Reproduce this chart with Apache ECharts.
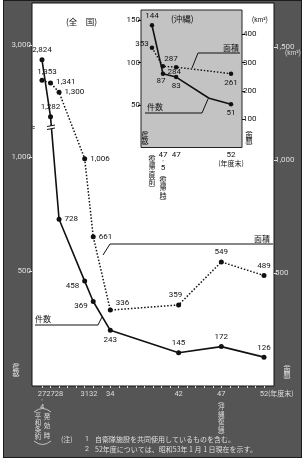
<!DOCTYPE html>
<html>
<head>
<meta charset="utf-8">
<script src="https://cdn.jsdelivr.net/npm/echarts@6/dist/echarts.min.js"></script>
<style>
  html, body { margin: 0; padding: 0; background: #fff; }
  #frame { position: absolute; left: 3px; top: 0; width: 297px; height: 456px; background: #555; border: 1px solid #1c1c1c; }
  #chart { position: absolute; left: 0; top: 0; width: 307px; height: 462px; }
</style>
</head>
<body>
<div id="frame"></div>
<div id="chart"></div>
<script>
// 全国 -- x position in fiscal-year-end units (27.4 sits one year before FY27)
const xPos = [26, 27, 28, 31, 32, 34, 42, 47, 52];
const xLabels = ['27', '27', '28', '31', '32', '34', '42', '47', '52'];
const kensu = [2824, 1282, 728, 458, 369, 243, 145, 172, 126];     // 件数
const menseki = [1353, 1341, 1300, 1006, 661, 336, 359, 549, 489]; // 面積 (km²)
const leftTicks = [500, 1000, 3000];
const rightTicks = [500, 1000, 1500];

// 沖縄
const okiX = [44.8, 45.8, 47, 50, 52];
const okiKensu = [144, 87, 83, 58, 51];
const okiMenseki = [353, 287, 284, null, 261];
const okiXTicks = [44.8, 45.8, 47, 52];
const okiLeftTicks = [50, 100, 150];
const okiRightTicks = [100, 200, 300, 400];

const FONT_NUM = 'Roboto, "Noto Sans CJK JP", sans-serif';
const FONT_JP = '"Noto Sans CJK JP", sans-serif';
const LIGHT = '#dedede';
const INK = '#111';

// broken left axis (件数): compress everything above ~1,100
const knots = [[0, 0], [1100, 1100], [1282, 1175], [2824, 1424], [3000, 1489]];
function brk(v) {
  for (let i = 1; i < knots.length; i++) {
    const [a0, b0] = knots[i - 1], [a1, b1] = knots[i];
    if (v <= a1) return b0 + (v - a0) * (b1 - b0) / (a1 - a0);
  }
  return knots[knots.length - 1][1];
}
const fmt = n => n.toLocaleString('en-US');

// label placement per point
const kensuLbl = [
  { position: 'top' }, { position: 'top' }, { position: 'right' },
  { position: 'left', offset: [0, 5] }, { position: 'left', offset: [0, 5] },
  { position: 'bottom' }, { position: 'top' }, { position: 'top' }, { position: 'top' }
];
const mensekiLbl = [
  { position: 'top', offset: [5, 1] }, { position: 'right', offset: [0, -1] }, { position: 'right' },
  { position: 'right' }, { position: 'right' }, { position: 'right', offset: [0, -7] },
  { position: 'top', offset: [-3, 0] }, { position: 'top' }, { position: 'top' }
];
const okiKensuLbl = [
  { position: 'top' }, { position: 'bottom', offset: [-2, -2] }, { position: 'bottom' },
  { show: false }, { position: 'bottom' }
];
const okiMensekiLbl = [
  { position: 'left', offset: [2, -4] }, { position: 'top', offset: [8, 2] },
  { position: 'bottom', offset: [-2, -4] }, {}, { position: 'bottom' }
];

const yearTicks = [];
for (let y = 26; y <= 52; y++) yearTicks.push(y);

const chart = echarts.init(document.getElementById('chart'), null, { renderer: 'canvas' });

const lblBase = { show: true, color: INK, fontSize: 8, fontFamily: FONT_NUM, distance: 3 };

const option = {
  animation: false,
  backgroundColor: 'transparent',
  grid: [
    { left: 32, right: 33, top: 3, bottom: 76, show: true, backgroundColor: '#fff', borderColor: '#111', borderWidth: 1 },
    { left: 141, top: 10, width: 101, height: 137.5, show: true, backgroundColor: '#c3c3c3', borderColor: '#222', borderWidth: 1 }
  ],
  xAxis: [
    {
      type: 'value', gridIndex: 0, min: 24.83, max: 53.17,
      axisLine: { show: false }, splitLine: { show: false },
      axisTick: { show: true, customValues: yearTicks, length: 2, lineStyle: { color: LIGHT } },
      axisLabel: {
        customValues: xPos, color: LIGHT, margin: 4,
        formatter: v => {
          const i = xPos.indexOf(v);
          if (i === 0) return '{n|27}\n{s|・}\n{n|4}';
          if (xLabels[i] === '47') return '{n|47}\n{b|︵}\n{v|沖}\n{v|縄}\n{v|復}\n{v|帰}\n{b|︶}';
          return '{n|' + xLabels[i] + '}';
        },
        rich: {
          n: { fontSize: 7.5, lineHeight: 8, fontFamily: FONT_NUM, color: LIGHT },
          s: { fontSize: 6, lineHeight: 5, color: LIGHT },
          v: { fontSize: 6.5, lineHeight: 7.5, fontFamily: FONT_JP, color: LIGHT },
          b: { fontSize: 6.5, lineHeight: 5, fontFamily: FONT_JP, color: LIGHT }
        }
      }
    },
    {
      type: 'value', gridIndex: 1, min: 43.8, max: 53.0,
      axisLine: { show: false }, splitLine: { show: false }, axisTick: { show: false },
      axisLabel: {
        customValues: okiXTicks, margin: 3,
        formatter: v => {
          if (v === okiXTicks[0]) return '{b|︵}\n{v|復}\n{v|帰}\n{v|直}\n{v|前}\n{b|︶}';
          if (v === okiXTicks[1]) return '{n|47}\n{s|・}\n{n|5}\n{b|︵}\n{v|復}\n{v|帰}\n{v|時}\n{b|︶}';
          if (v === okiXTicks[2]) return '{n|47}';
          return '{n|52}\n{h|(年度末)}';
        },
        rich: {
          n: { fontSize: 8, lineHeight: 8, fontFamily: FONT_NUM, color: INK },
          s: { fontSize: 6, lineHeight: 5, color: INK },
          v: { fontSize: 7, lineHeight: 7.5, fontFamily: FONT_JP, color: INK },
          b: { fontSize: 7, lineHeight: 5, fontFamily: FONT_JP, color: INK },
          h: { fontSize: 7, lineHeight: 9, fontFamily: FONT_JP, color: INK }
        }
      }
    }
  ],
  yAxis: [
    {
      type: 'value', gridIndex: 0, position: 'left', min: 0, max: 1672,
      axisLine: { show: false }, splitLine: { show: false },
      axisTick: { show: true, customValues: leftTicks.map(brk), length: 3, lineStyle: { color: LIGHT } },
      axisLabel: {
        customValues: leftTicks.map(brk), color: LIGHT, fontSize: 8, fontFamily: FONT_NUM, margin: 1,
        formatter: v => fmt(leftTicks.find(t => Math.abs(brk(t) - v) < 0.5))
      }
    },
    {
      type: 'value', gridIndex: 0, position: 'right', min: 0, max: 1695,
      axisLine: { show: false }, splitLine: { show: false },
      axisTick: { show: true, customValues: rightTicks, length: 3, lineStyle: { color: LIGHT } },
      axisLabel: { customValues: rightTicks, color: LIGHT, fontSize: 8, fontFamily: FONT_NUM, margin: 1, formatter: v => fmt(v) }
    },
    {
      type: 'value', gridIndex: 1, position: 'left', min: 0, max: 162,
      axisLine: { show: false }, splitLine: { show: false },
      axisTick: { show: true, customValues: okiLeftTicks, length: 3, lineStyle: { color: INK } },
      axisLabel: { customValues: okiLeftTicks, color: INK, fontSize: 8, fontFamily: FONT_NUM, margin: 1 }
    },
    {
      type: 'value', gridIndex: 1, position: 'right', min: 0, max: 486,
      axisLine: { show: false }, splitLine: { show: false },
      axisTick: { show: true, customValues: okiRightTicks, length: 3, lineStyle: { color: INK } },
      axisLabel: { customValues: okiRightTicks, color: INK, fontSize: 8, fontFamily: FONT_NUM, margin: 1 }
    }
  ],
  series: [
    {
      name: '件数', type: 'line', xAxisIndex: 0, yAxisIndex: 0,
      data: xPos.map((x, i) => ({ value: [x, brk(kensu[i])], label: kensuLbl[i] })),
      symbol: 'circle', symbolSize: 5, itemStyle: { color: INK },
      lineStyle: { color: INK, width: 1.6 },
      label: Object.assign({}, lblBase, { formatter: p => fmt(kensu[p.dataIndex]) }),
      z: 5
    },
    {
      name: '面積', type: 'line', xAxisIndex: 0, yAxisIndex: 1,
      data: xPos.map((x, i) => ({ value: [x, menseki[i]], label: mensekiLbl[i] })),
      symbol: 'circle', symbolSize: 5, itemStyle: { color: INK },
      lineStyle: { color: INK, width: 1.5, type: [1.5, 1.8] },
      label: Object.assign({}, lblBase, { formatter: p => fmt(menseki[p.dataIndex]) }),
      z: 4
    },
    {
      name: '沖縄件数', type: 'line', xAxisIndex: 1, yAxisIndex: 2,
      data: okiX.map((x, i) => ({ value: [x, okiKensu[i]], label: okiKensuLbl[i], symbol: i === 3 ? 'none' : 'circle' })),
      symbolSize: 4.5, itemStyle: { color: INK },
      lineStyle: { color: INK, width: 1.6 },
      label: Object.assign({}, lblBase, { formatter: p => String(okiKensu[p.dataIndex]) }),
      z: 6
    },
    {
      name: '沖縄面積', type: 'line', xAxisIndex: 1, yAxisIndex: 3, connectNulls: true,
      data: okiX.map((x, i) => ({ value: [x, okiMenseki[i]], label: okiMensekiLbl[i] })),
      symbol: 'circle', symbolSize: 4.5, itemStyle: { color: INK },
      lineStyle: { color: INK, width: 1.4, type: [1.5, 1.8] },
      label: Object.assign({}, lblBase, { formatter: p => String(okiMenseki[p.dataIndex]) }),
      z: 6
    }
  ],
  graphic: [
    // titles
    { type: 'text', x: 66, y: 18, z: 50, style: { text: '(全　国)', fill: INK, fontSize: 8.5, fontFamily: FONT_JP } },
    { type: 'text', x: 171, y: 15, z: 50, style: { text: '(沖縄)', fill: INK, fontSize: 8.5, fontFamily: FONT_JP } },
    { type: 'text', x: 252, y: 17, z: 50, style: { text: '(km²)', fill: INK, fontSize: 6.5, fontFamily: FONT_NUM } },
    { type: 'text', x: 285, y: 50, z: 50, style: { text: '(km²)', fill: LIGHT, fontSize: 6.5, fontFamily: FONT_NUM } },
    // main callouts
    { type: 'polyline', z: 50, shape: { points: [[103, 255], [110, 244], [273, 244]] }, style: { stroke: INK, lineWidth: 1, fill: null } },
    { type: 'text', x: 254, y: 235, z: 50, style: { text: '面積', fill: INK, fontSize: 8, fontFamily: FONT_JP } },
    { type: 'polyline', z: 50, shape: { points: [[35, 325], [98, 325], [102, 317]] }, style: { stroke: INK, lineWidth: 1, fill: null } },
    { type: 'text', x: 35, y: 315, z: 50, style: { text: '件数', fill: INK, fontSize: 8, fontFamily: FONT_JP } },
    // inset callouts
    { type: 'polyline', z: 50, shape: { points: [[192, 68], [198, 53], [240, 53]] }, style: { stroke: INK, lineWidth: 1, fill: null } },
    { type: 'text', x: 223, y: 44, z: 50, style: { text: '面積', fill: INK, fontSize: 8, fontFamily: FONT_JP } },
    { type: 'polyline', z: 50, shape: { points: [[145, 113], [202, 113], [208, 99]] }, style: { stroke: INK, lineWidth: 1, fill: null } },
    { type: 'text', x: 147, y: 103, z: 50, style: { text: '件数', fill: INK, fontSize: 8, fontFamily: FONT_JP } },
    // vertical axis names
    { type: 'text', x: 145, y: 127, z: 50, style: { text: '︵\n件\n数\n︶', fill: INK, fontSize: 7, lineHeight: 5.5, fontFamily: FONT_JP, align: 'center' } },
    { type: 'text', x: 249, y: 127, z: 50, style: { text: '︵\n面\n積\n︶', fill: INK, fontSize: 7, lineHeight: 5.5, fontFamily: FONT_JP, align: 'center' } },
    { type: 'text', x: 16, y: 359, z: 50, style: { text: '︵\n件\n数\n︶', fill: LIGHT, fontSize: 7, lineHeight: 5.5, fontFamily: FONT_JP, align: 'center' } },
    { type: 'text', x: 287, y: 361, z: 50, style: { text: '︵\n面\n積\n︶', fill: LIGHT, fontSize: 7, lineHeight: 5.5, fontFamily: FONT_JP, align: 'center' } },
    // (年度末) after 52
    { type: 'text', x: 268, y: 390, z: 50, style: { text: '(年度末)', fill: LIGHT, fontSize: 7, fontFamily: FONT_JP } },
    // (平和条約発効時)
    { type: 'bezierCurve', z: 50, shape: { x1: 34, y1: 412, cpx1: 42.5, cpy1: 405, x2: 51, y2: 412 }, style: { stroke: LIGHT, lineWidth: 0.8, fill: null } },
    { type: 'bezierCurve', z: 50, shape: { x1: 34, y1: 441, cpx1: 42.5, cpy1: 448, x2: 51, y2: 441 }, style: { stroke: LIGHT, lineWidth: 0.8, fill: null } },
    { type: 'text', x: 38, y: 412, z: 50, style: { text: '平\n和\n条\n約', fill: LIGHT, fontSize: 6.5, lineHeight: 7, fontFamily: FONT_JP, align: 'center' } },
    { type: 'text', x: 47, y: 412, z: 50, style: { text: '発\n効\n時', fill: LIGHT, fontSize: 6.5, lineHeight: 9.3, fontFamily: FONT_JP, align: 'center' } },
    // notes
    { type: 'text', x: 61, y: 436, z: 50, style: { text: '(注)', fill: LIGHT, fontSize: 7, fontFamily: FONT_JP } },
    { type: 'text', x: 85, y: 436, z: 50, style: { text: '1', fill: LIGHT, fontSize: 7, fontFamily: FONT_NUM } },
    { type: 'text', x: 95, y: 436, z: 50, style: { text: '自衛隊施設を共同使用しているものを含む。', fill: LIGHT, fontSize: 7, fontFamily: FONT_JP } },
    { type: 'text', x: 85, y: 446, z: 50, style: { text: '2', fill: LIGHT, fontSize: 7, fontFamily: FONT_NUM } },
    { type: 'text', x: 95, y: 446, z: 50, style: { text: '52年度については、昭和53年 1 月 1 日現在を示す。', fill: LIGHT, fontSize: 7, fontFamily: FONT_JP } },
    // axis break marks
    { type: 'rect', z: 50, shape: { x: 47, y: 126, width: 8, height: 3 }, style: { fill: '#fff' } },
    { type: 'line', z: 51, shape: { x1: 47, y1: 126.5, x2: 55, y2: 125 }, style: { stroke: INK, lineWidth: 1 } },
    { type: 'line', z: 51, shape: { x1: 47, y1: 129.5, x2: 55, y2: 128 }, style: { stroke: INK, lineWidth: 1 } },
    { type: 'text', x: 33, y: 128, z: 50, style: { text: '≈', fill: '#333', fontSize: 9, fontFamily: FONT_NUM, align: 'center', verticalAlign: 'middle' } }
  ]
};

chart.setOption(option);
</script>
</body>
</html>
